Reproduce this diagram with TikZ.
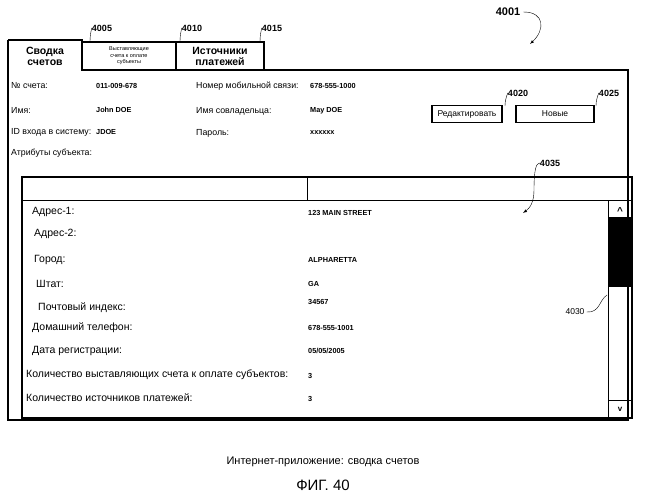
\documentclass[tikz,border=0pt]{standalone}
\usepackage{fontspec}
\setmainfont{Liberation Sans}
\usetikzlibrary{positioning}
\tikzset{
  lbl/.style={anchor=west,inner sep=0pt,font=\fontsize{8.8}{10}\selectfont},
  val/.style={anchor=west,inner sep=0pt,font=\fontsize{7.3}{8}\selectfont\bfseries},
  row/.style={anchor=west,inner sep=0pt,font=\fontsize{10.5}{12}\selectfont},
  ref/.style={inner sep=0pt,font=\fontsize{9}{10}\selectfont\bfseries},
  btn/.style={draw,line width=1.3pt,inner sep=0pt,minimum height=17pt,font=\fontsize{8.5}{10}\selectfont},
  tab/.style={draw,line width=1.3pt,inner sep=0pt,font=\fontsize{10.5}{11}\selectfont\bfseries,align=center}
}
\begin{document}
\begin{tikzpicture}[x=1pt,y=-1pt]
\useasboundingbox (0,0) rectangle (645,500);

% Window and tabs
\draw[line width=1.1pt] (8,40) -- (8,420) -- (628,420) -- (628,70) -- (264,70);
\draw[line width=1.1pt] (8,40) -- (82,40) -- (82,70);
\node[tab,minimum width=94pt,minimum height=28pt,font=\fontsize{5.5}{6.5}\selectfont] (t2) at (129,56) {Выставляющие\\счета к оплате\\субъекты};
\node[tab,minimum width=88pt,minimum height=28pt] (t3) at (220,56) {Источники\\платежей};
\node[font=\fontsize{10.5}{11}\selectfont\bfseries,align=center] (t1) at (45,56) {Сводка\\счетов};

% Reference numerals
\node[ref,font=\fontsize{11}{12}\selectfont\bfseries] (n4001) at (508,12) {4001};
\draw[->,>=latex] (n4001.east) ++(3,0) coordinate (a1) .. controls (545,12) and (545,30) .. (530,44);
\node[ref] (n4005) at (102,28) {4005};
\draw (n4005.west) .. controls (92,28) and (90,33) .. (90,42);
\node[ref] (n4010) at (192,28) {4010};
\draw (n4010.west) .. controls (182,28) and (180,33) .. (180,42);
\node[ref] (n4015) at (272,28) {4015};
\draw (n4015.west) .. controls (262,28) and (260,33) .. (260,42);

% Account fields
\node[lbl] (acc) at (11,86) {№ счета:};
\node[val] (accv) at (96,86) {011-009-678};
\node[lbl] (mob) at (196,86) {Номер мобильной связи:};
\node[val] (mobv) at (310,86) {678-555-1000};
\node[lbl] (nm) at (11,110) {Имя:};
\node[val] (nmv) at (96,110) {John DOE};
\node[lbl] (co) at (196,111) {Имя совладельца:};
\node[val] (cov) at (310,111) {May DOE};
\node[lbl] (id) at (11,132) {ID входа в систему:};
\node[val] (idv) at (96,132) {JDOE};
\node[lbl] (pw) at (196,133) {Пароль:};
\node[val] (pwv) at (310,133) {xxxxxx};
\node[lbl] (attr) at (11,153) {Атрибуты субъекта:};

% Buttons
\node[btn,minimum width=70pt] (edit) at (467,114) {Редактировать};
\node[btn,minimum width=78pt] (new) at (555,114) {Новые};
\node[ref] (n4020) at (518,93) {4020};
\draw (n4020.west) .. controls (508,93) and (505,98) .. (505,106);
\node[ref] (n4025) at (609,93) {4025};
\draw (n4025.west) .. controls (599,93) and (596,98) .. (596,106);

% Attribute table
\draw[line width=1.1pt] (22,177) rectangle (632,418);
\draw (22,200) -- (632,200);
\draw (307,177) -- (307,200);
\draw (608,200) -- (608,418);
\fill (608,217) rectangle (632,287);
\draw (608,400) -- (632,400);
\node[font=\fontsize{10}{10}\selectfont\bfseries] (up) at (620,211) {\^{}};
\node[font=\fontsize{8}{8}\selectfont\bfseries] (dn) at (620,409) {v};
\node[ref] (n4035) at (550,163) {4035};
\draw[->,>=latex] (n4035.west) .. controls (536,163) and (534,170) .. (534,190) .. controls (534,202) and (530,208) .. (523,213);
\node[ref,font=\fontsize{8.5}{9}\selectfont] (n4030) at (575,312) {4030};
\draw (n4030.east) ++(2,0) .. controls (600,313) and (599,300) .. (607,295);

% Rows
\node[row] (r1) at (32,212) {Адрес-1:};
\node[val] (r1v) at (308,213) {123 MAIN STREET};
\node[row] (r2) at (34,234) {Адрес-2:};
\node[row] (r3) at (34,260) {Город:};
\node[val] (r3v) at (308,260) {ALPHARETTA};
\node[row] (r4) at (36,284) {Штат:};
\node[val] (r4v) at (308,284) {GA};
\node[row] (r5) at (38,308) {Почтовый индекс:};
\node[val] (r5v) at (308,302) {34567};
\node[row] (r6) at (32,328) {Домашний телефон:};
\node[val] (r6v) at (308,328) {678-555-1001};
\node[row] (r7) at (32,351) {Дата регистрации:};
\node[val] (r7v) at (308,351) {05/05/2005};
\node[row] (r8) at (26,375) {Количество выставляющих счета к оплате субъектов:};
\node[val] (r8v) at (308,376) {3};
\node[row] (r9) at (26,398) {Количество источников платежей:};
\node[val] (r9v) at (308,399) {3};

% Caption
\node[font=\fontsize{11}{13}\selectfont] (cap) at (323,462) {Интернет-приложение: сводка счетов};
\node[font=\fontsize{15}{17}\selectfont] (fig) at (323,485) {ФИГ. 40};
\end{tikzpicture}
\end{document}
